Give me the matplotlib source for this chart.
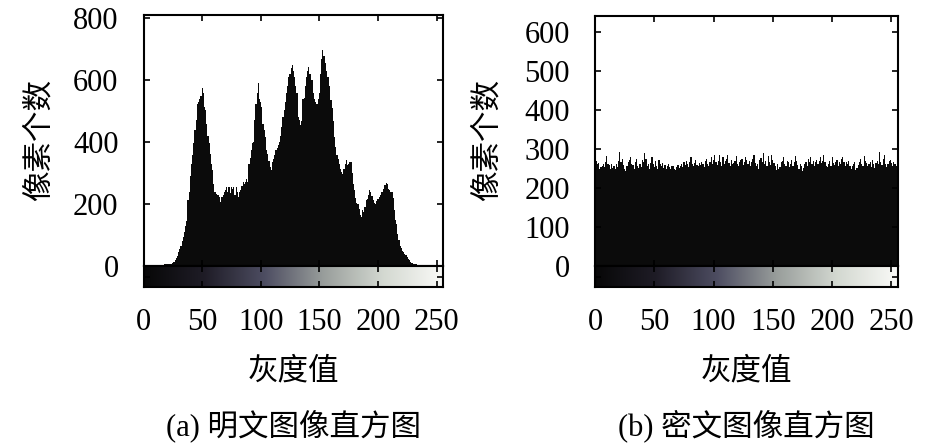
import numpy as np
import matplotlib
matplotlib.use("Agg")
import matplotlib.pyplot as plt
from matplotlib.colors import LinearSegmentedColormap

plt.rcParams['font.family'] = ['Liberation Serif', 'Noto Sans CJK SC']

# grey levels 0..255
levels = np.arange(256)

# plain image histogram
plain_counts = [
    2, 3, 3, 3, 3, 3, 3, 3, 3, 3, 3, 3, 3, 4, 4, 4,
    4, 4, 5, 5, 5, 6, 6, 7, 8, 9, 12, 18, 25, 33, 45, 56,
    66, 80, 93, 110, 130, 147, 212, 240, 290, 331, 360, 396, 440, 471, 525, 530,
    541, 550, 575, 560, 514, 504, 460, 420, 396, 363, 330, 309, 266, 239, 234, 230,
    228, 223, 207, 222, 230, 239, 245, 255, 240, 255, 235, 255, 250, 255, 230, 255,
    239, 223, 240, 245, 260, 271, 265, 271, 280, 271, 331, 350, 374, 396, 400, 471,
    525, 560, 590, 541, 530, 514, 460, 440, 417, 374, 363, 340, 320, 310, 336, 347,
    360, 374, 380, 390, 400, 420, 450, 480, 504, 530, 558, 580, 611, 620, 640, 650,
    630, 611, 580, 558, 482, 471, 455, 470, 541, 543, 580, 611, 630, 644, 620, 600,
    600, 560, 541, 530, 525, 540, 558, 620, 670, 698, 680, 655, 630, 611, 611, 580,
    536, 510, 470, 417, 385, 360, 345, 331, 315, 305, 298, 315, 330, 342, 325, 331,
    336, 336, 300, 266, 245, 220, 205, 201, 185, 165, 158, 180, 175, 190, 212, 217,
    230, 245, 239, 225, 212, 205, 201, 210, 218, 223, 230, 239, 239, 250, 261, 267,
    265, 250, 245, 240, 239, 220, 180, 150, 137, 104, 83, 66, 58, 50, 45, 38,
    34, 28, 22, 18, 14, 10, 7, 6, 5, 5, 4, 4, 4, 4, 3, 3,
    3, 3, 3, 3, 3, 3, 3, 3, 3, 3, 3, 3, 3, 3, 3, 3,
]

# cipher image histogram
cipher_counts = [
    276, 270, 262, 265, 250, 254, 258, 263, 255, 268, 282, 262, 259, 248, 261, 252,
    256, 250, 262, 255, 270, 293, 268, 276, 260, 248, 244, 258, 266, 272, 280, 262,
    259, 250, 268, 276, 258, 252, 263, 255, 272, 266, 290, 275, 258, 261, 250, 265,
    279, 262, 255, 270, 258, 248, 273, 262, 256, 265, 252, 260, 249, 258, 261, 253,
    250, 258, 256, 248, 246, 254, 260, 252, 258, 263, 255, 266, 259, 270, 262, 255,
    268, 279, 262, 258, 265, 273, 260, 256, 264, 259, 268, 262, 255, 270, 276, 261,
    258, 268, 280, 262, 272, 285, 266, 260, 270, 285, 268, 258, 280, 262, 270, 276,
    285, 264, 258, 272, 262, 265, 270, 282, 261, 258, 268, 271, 275, 260, 266, 280,
    272, 262, 270, 258, 268, 276, 285, 264, 258, 263, 250, 272, 278, 266, 290, 262,
    270, 258, 282, 268, 260, 285, 272, 264, 258, 247, 262, 250, 254, 266, 270, 279,
    262, 258, 270, 268, 255, 262, 272, 258, 266, 282, 270, 260, 250, 262, 256, 243,
    252, 262, 268, 258, 276, 266, 280, 262, 270, 258, 266, 271, 262, 270, 279, 265,
    270, 285, 266, 258, 254, 262, 270, 258, 280, 264, 260, 268, 271, 258, 266, 262,
    274, 280, 266, 258, 268, 262, 270, 256, 250, 258, 262, 266, 247, 252, 260, 268,
    276, 262, 258, 282, 270, 264, 258, 261, 266, 255, 272, 261, 252, 265, 270, 262,
    293, 268, 260, 274, 285, 261, 255, 262, 270, 273, 264, 258, 268, 263, 258, 272,
]

x_ticks = [0, 50, 100, 150, 200, 250]
plain_yticks = [0, 200, 400, 600, 800]
cipher_yticks = [0, 100, 200, 300, 400, 500, 600]
ylabel = '像素个数'
xlabel = '灰度值'
captions = ['(a) 明文图像直方图', '(b) 密文图像直方图']

grey_map = LinearSegmentedColormap.from_list('grey_bar', [
    (0.0, (0.03, 0.03, 0.03)),
    (0.2, (0.12, 0.11, 0.15)),
    (0.4, (0.30, 0.30, 0.38)),
    (0.6, (0.60, 0.62, 0.61)),
    (0.8, (0.83, 0.85, 0.82)),
    (1.0, (0.98, 0.98, 0.97)),
])

W, H = 946, 446
fig = plt.figure(figsize=(W / 100, H / 100), dpi=100)


def px_box(x0, y0, x1, y1):
    return [x0 / W, 1 - y1 / H, (x1 - x0) / W, (y1 - y0) / H]


def panel(x0, x1, top, counts, ymax, yticks, caption):
    xmax = 255.5
    ax = fig.add_axes(px_box(x0, top, x1, 266))
    ax.bar(levels, counts, width=1.0, color='#0b0b0b', linewidth=0)
    ax.set_xlim(0, xmax)
    ax.set_ylim(0, ymax)
    ax.set_yticks(yticks)
    ax.set_xticks(x_ticks)
    ax.tick_params(direction='in', length=4, width=1.2, top=True, right=True,
                   labelbottom=False, labelsize=22, pad=18)
    for s in ax.spines.values():
        s.set_linewidth(1.5)

    cb = fig.add_axes(px_box(x0, 266, x1, 287))
    cb.imshow(levels.reshape(1, -1), cmap=grey_map, aspect='auto',
              extent=(0, xmax, 0, 1), interpolation='bilinear')
    cb.set_xlim(0, xmax)
    cb.set_ylim(0, 1)
    cb.set_xticks(x_ticks)
    cb.set_yticks([0.5])
    cb.tick_params(direction='in', length=4, width=1.2, top=True, right=True,
                   labelleft=False, labelsize=22, pad=15)
    for s in cb.spines.values():
        s.set_linewidth(1.5)

    cx = (x0 + x1) / 2
    fig.text(cx / W, 1 - 372 / H, xlabel, ha='center', va='center', fontsize=22)
    fig.text(cx / W, 1 - 427 / H, caption, ha='center', va='center', fontsize=22)
    return ax


panel(143.5, 443, 15, plain_counts, 811, plain_yticks, captions[0])
panel(595, 898, 16, cipher_counts, 642, cipher_yticks, captions[1])

fig.text(40 / W, 1 - 140 / H, ylabel, ha='center', va='center', rotation=90, fontsize=22)
fig.text(488 / W, 1 - 140 / H, ylabel, ha='center', va='center', rotation=90, fontsize=22)

fig.savefig('out.png', dpi=100)
